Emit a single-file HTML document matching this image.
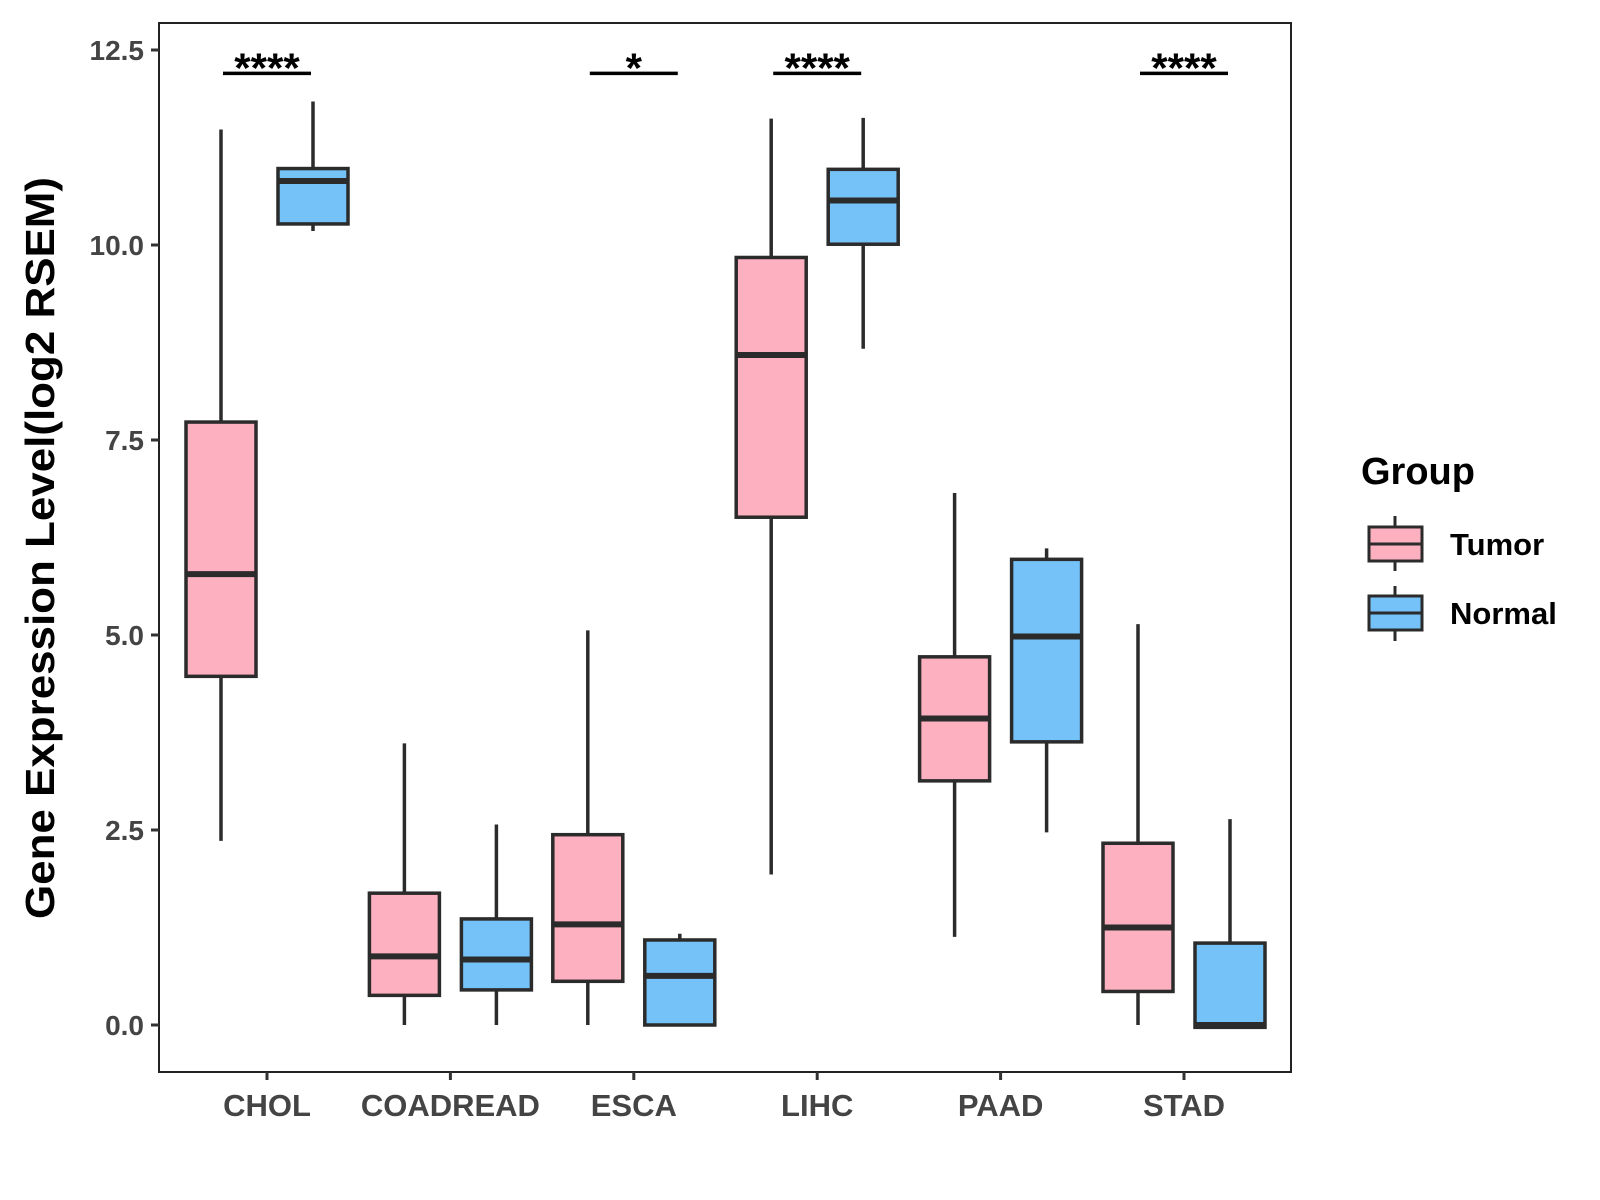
<!DOCTYPE html>
<html><head><meta charset="utf-8"><style>body{margin:0;background:#fff}svg{display:block;font-family:"Liberation Sans",Arial,sans-serif;font-weight:bold}</style></head>
<body>
<svg id="c" width="1600" height="1200" viewBox="0 0 1600 1200">
<rect x="159" y="23" width="1132" height="1049" fill="#fff" stroke="#222" stroke-width="2"/>
<g id="marks"></g>
<text transform="translate(54,548) rotate(-90)" text-anchor="middle" font-size="41" textLength="742" lengthAdjust="spacingAndGlyphs" fill="#000">Gene Expression Level(log2 RSEM)</text>
<g>
<text x="1361" y="484" font-size="38" fill="#000">Group</text>
<g>
<line x1="1395" y1="516" x2="1395" y2="571" stroke="#2b2b2b" stroke-width="3"/>
<rect x="1369" y="527" width="53" height="34" fill="#FDB0C0" stroke="#2b2b2b" stroke-width="3"/>
<line x1="1369" y1="544" x2="1422" y2="544" stroke="#2b2b2b" stroke-width="3"/>
<text x="1450" y="555" font-size="31" fill="#000">Tumor</text></g>
<g>
<line x1="1395" y1="586" x2="1395" y2="641" stroke="#2b2b2b" stroke-width="3"/>
<rect x="1369" y="596" width="53" height="34" fill="#75C2F8" stroke="#2b2b2b" stroke-width="3"/>
<line x1="1369" y1="613" x2="1422" y2="613" stroke="#2b2b2b" stroke-width="3"/>
<text x="1450" y="624" font-size="31" fill="#000">Normal</text></g>
</g>
</svg>
<script>
const categories=["CHOL","COADREAD","ESCA","LIHC","PAAD","STAD"];
const tumorLow=[2.36,0,0,1.93,1.13,0];
const tumorQ1=[4.47,0.38,0.56,6.51,3.13,0.43];
const tumorMed=[5.78,0.88,1.29,8.59,3.93,1.25];
const tumorQ3=[7.73,1.69,2.44,9.84,4.72,2.33];
const tumorHigh=[11.48,3.61,5.06,11.62,6.82,5.14];
const normalLow=[10.18,0,0,8.67,2.47,-0.03];
const normalQ1=[10.27,0.45,0,10.01,3.63,-0.03];
const normalMed=[10.82,0.84,0.63,10.57,4.98,0.0];
const normalQ3=[10.98,1.36,1.09,10.97,5.97,1.05];
const normalHigh=[11.84,2.57,1.17,11.63,6.11,2.64];
const sigLabels=["****","","*","****","","****"];
const yTicks=[0,2.5,5,7.5,10,12.5];
const yTickLabels=["0.0","2.5","5.0","7.5","10.0","12.5"];
const sigY=12.2;
const NS="http://www.w3.org/2000/svg";
const g=document.getElementById('marks');
const y=v=>1025-v*78;
const x=i=>267+i*183.4;
function mk(t,a,p){const e=document.createElementNS(NS,t);for(const k in a)e.setAttribute(k,a[k]);(p||g).appendChild(e);return e;}
yTicks.forEach((t,i)=>{
 const l=mk('line',{x1:151,x2:159,y1:y(t),y2:y(t),stroke:'#333','stroke-width':3});
 
 
 const tx=mk('text',{x:144,y:y(t)+10,'text-anchor':'end','font-size':28,fill:'#444'});
 tx.textContent=yTickLabels[i];
 
 
});
function box(cx,lo,q1,md,q3,hi,fill,name){
 const gg=mk('g',{});
 
 
 mk('line',{x1:cx,x2:cx,y1:y(hi),y2:y(lo),stroke:'#2b2b2b','stroke-width':3.5},gg);
 mk('rect',{x:cx-35,y:y(q3),width:70,height:Math.max(y(q1)-y(q3),1),fill:fill,stroke:'#2b2b2b','stroke-width':3.5},gg);
 mk('line',{x1:cx-35,x2:cx+35,y1:y(md),y2:y(md),stroke:'#2b2b2b','stroke-width':6},gg);
}
categories.forEach((c,i)=>{
 const cx=x(i);
 box(cx-46,tumorLow[i],tumorQ1[i],tumorMed[i],tumorQ3[i],tumorHigh[i],'#FDB0C0','box-tumor-'+c.toLowerCase());
 box(cx+46,normalLow[i],normalQ1[i],normalMed[i],normalQ3[i],normalHigh[i],'#75C2F8','box-normal-'+c.toLowerCase());
 const tk=mk('line',{x1:cx,x2:cx,y1:1072,y2:1080,stroke:'#333','stroke-width':3});
 
 
 const lb=mk('text',{x:cx,y:1116,'text-anchor':'middle','font-size':31,fill:'#444'});
 lb.textContent=c;
 
 
 if(sigLabels[i]){
  const b=mk('line',{x1:cx-44,x2:cx+44,y1:y(sigY),y2:y(sigY),stroke:'#000','stroke-width':3.5});
  
  
  const s=mk('text',{x:cx,y:y(sigY)+9,'text-anchor':'middle','font-size':42,fill:'#000'});
  s.textContent=sigLabels[i];
  
  
 }
});
</script>
</body></html>
